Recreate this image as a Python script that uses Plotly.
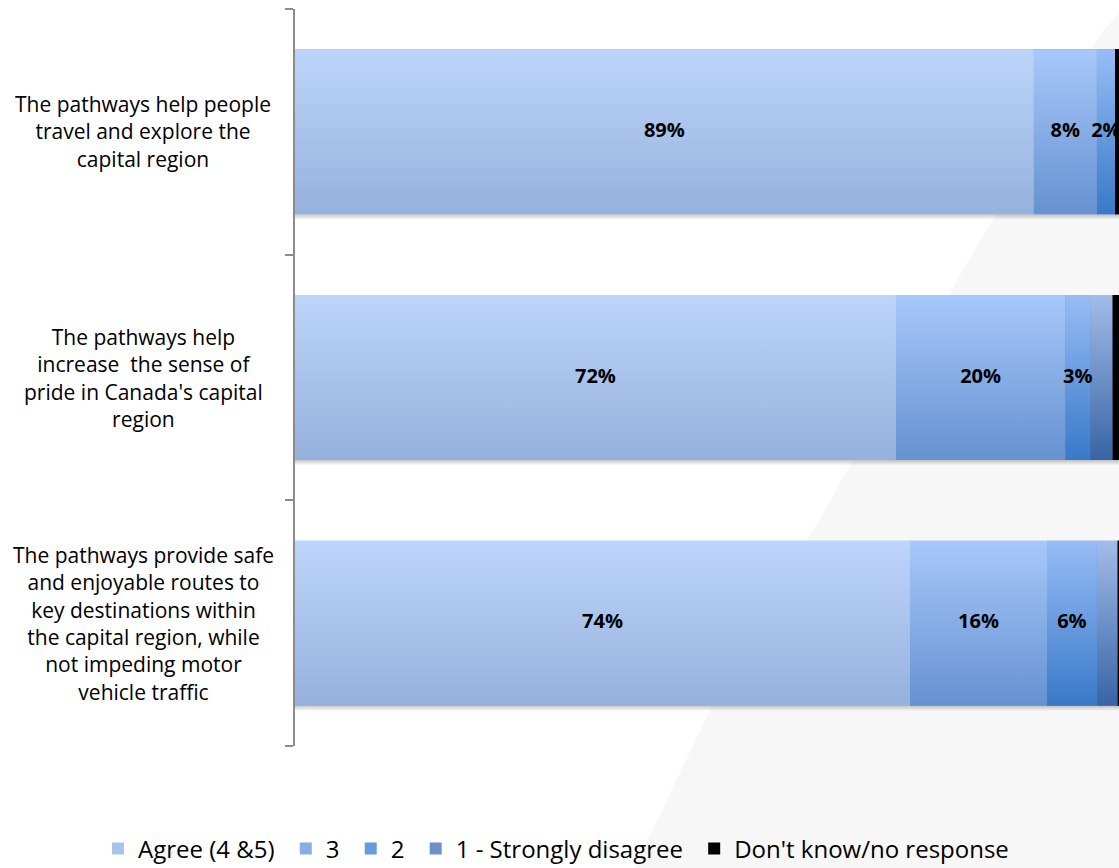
import plotly.graph_objects as go

# ---------------- data ----------------
categories = [
    "The pathways help people<br>travel and explore the<br>capital region",
    "The pathways help<br>increase  the sense of<br>pride in Canada's capital<br>region",
    "The pathways provide safe<br>and enjoyable routes to<br>key destinations within<br>the capital region, while<br>not impeding motor<br>vehicle traffic",
]
series_names = ["Agree (4 &5)", "3", "2", "1 - Strongly disagree", "Don't know/no response"]
agree = [89.0, 72.4, 74.1]
neutral = [7.6, 20.4, 16.5]
disagree_2 = [2.2, 3.0, 6.0]
strongly_disagree = [0.0, 2.7, 2.5]
dont_know = [1.2, 1.5, 0.9]
series_values = [agree, neutral, disagree_2, strongly_disagree, dont_know]
labelled_series = [True, True, True, False, False]

# ---------------- styles ----------------
grad_top = ["#bdd5fb", "#a8c8fa", "#98bdf6", "#a3bcea", "#000000"]
grad_bottom = ["#95b1dc", "#6592d1", "#3879c8", "#3764a5", "#000000"]
solid = ["#a9c3ec", "#86ade6", "#679bdf", "#6d90c8", "#000000"]
FONT = "Open Sans"
BARGAP = 0.328
half = (1 - BARGAP) / 2
LEGEND_PAD = "\u00a0"

# plot-area pixel geometry (for decorative background)
L, R, T, B = 295, 1119, 9, 746
W, H = R - L, B - T
def px_to_paper(px, py):
    return (px - L) / W, (B - py) / H

fig = go.Figure()

ypos = list(range(len(categories)))

# real bars (structure + legend)
for name, vals, col in zip(series_names, series_values, solid):
    fig.add_trace(go.Bar(
        x=vals, y=ypos, orientation="h", name=name + LEGEND_PAD,
        marker=dict(color=col, line=dict(width=0)),
        hoverinfo="skip",
    ))

# shadows under bars and gradient overlays for each segment
totals = [sum(s[i] for s in series_values) for i in ypos]
for i in ypos:
    y0, y1 = i + half, i + half + 0.022
    fig.add_trace(go.Scatter(
        x=[0, totals[i], totals[i], 0, 0], y=[y0, y0, y1, y1, y0],
        mode="lines", line=dict(width=0), fill="toself",
        fillgradient=dict(type="vertical",
                          colorscale=[[0, "rgba(0,0,0,0.22)"], [1, "rgba(0,0,0,0)"]],
                          start=y0, stop=y1),
        showlegend=False, hoverinfo="skip",
    ))

text_x, text_y, text_s = [], [], []
for i in ypos:
    left = 0.0
    for k, vals in enumerate(series_values):
        v = vals[i]
        if v > 0:
            yt, yb = i - half, i + half
            fig.add_trace(go.Scatter(
                x=[left, left + v, left + v, left, left],
                y=[yt, yt, yb, yb, yt],
                mode="lines", line=dict(width=0), fill="toself",
                fillgradient=dict(type="vertical",
                                  colorscale=[[0, grad_top[k]], [1, grad_bottom[k]]],
                                  start=yt, stop=yb),
                showlegend=False, hoverinfo="skip",
            ))
            if labelled_series[k]:
                text_x.append(left + v / 2)
                text_y.append(i)
                text_s.append(f"{round(v)}%")
        left += v

fig.add_trace(go.Scatter(
    x=text_x, y=text_y, text=text_s, mode="text",
    textfont=dict(family=FONT, size=20, color="#000000", weight="bold"),
    textposition="middle center", showlegend=False, hoverinfo="skip",
))

# category labels (centered multi-line)
for i, cat in enumerate(categories):
    fig.add_annotation(
        x=px_to_paper(143, 0)[0], xref="paper", y=i, yref="y",
        text=cat, showarrow=False, align="center", xanchor="center", yanchor="middle",
        font=dict(family=FONT, size=21, color="#000000"),
    )

# decorative light-grey swoosh in the background
pts = [(1135, -5), (1100, 35), (905, 370), (710, 710), (643, 850), (632, 875), (1135, 875)]
path = "M " + " L ".join(f"{px_to_paper(x, y)[0]:.4f},{px_to_paper(x, y)[1]:.4f}" for x, y in pts) + " Z"
fig.add_shape(type="path", path=path, xref="paper", yref="paper",
              fillcolor="#f7f7f7", line=dict(width=0), layer="below")

fig.update_layout(
    width=1119, height=868,
    margin=dict(l=L, r=1119 - R, t=T, b=868 - B, autoexpand=False),
    paper_bgcolor="#ffffff", plot_bgcolor="rgba(0,0,0,0)",
    barmode="stack", bargap=BARGAP,
    font=dict(family=FONT, color="#000000"),
    showlegend=True,
    legend=dict(orientation="h", x=px_to_paper(98, 0)[0], xanchor="left",
                y=px_to_paper(0, 849)[1], yanchor="middle",
                font=dict(family=FONT, size=24, color="#000000"),
                bgcolor="rgba(0,0,0,0)", traceorder="normal"),
    xaxis=dict(range=[0, (R - L) / 8.3], visible=False, fixedrange=True),
    yaxis=dict(range=[2.5, -0.5], tickvals=[-0.5, 0.5, 1.5, 2.5], ticktext=["", "", "", ""],
               ticks="outside", ticklen=8, tickwidth=2, tickcolor="#8c8c8c",
               showline=True, linewidth=2, linecolor="#8c8c8c",
               showgrid=False, zeroline=False, fixedrange=True),
)

fig.write_html(
    "out.html",
    config={"displayModeBar": False},
    post_script="document.body.style.margin='0';document.body.style.overflow='hidden';",
)
